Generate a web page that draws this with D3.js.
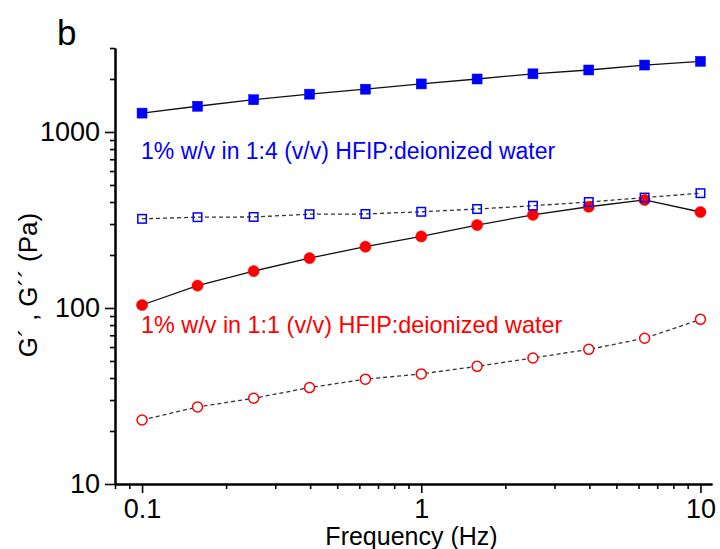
<!DOCTYPE html>
<html>
<head>
<meta charset="utf-8">
<script src="https://cdn.jsdelivr.net/npm/d3@7"></script>
<style>
  html, body { margin: 0; padding: 0; background: #fff; }
  svg { display: block; font-family: "Liberation Sans", Arial, sans-serif; }
</style>
</head>
<body>
<svg id="chart" width="720" height="549"></svg>
<script>
// Oscillatory frequency sweep: storage (G') and loss (G'') moduli
const frequency = [0.1, 0.158, 0.251, 0.398, 0.631, 1, 1.585, 2.512, 3.981, 6.31, 10];

// 1% w/v in 1:4 (v/v) HFIP:deionized water
const storage14 = [1280, 1400, 1525, 1640, 1750, 1875, 2000, 2140, 2250, 2400, 2520];
const loss14    = [321, 328, 329, 341, 342, 352, 365, 381, 400, 424, 449];

// 1% w/v in 1:1 (v/v) HFIP:deionized water
const storage11 = [104, 134, 162, 192, 223, 255, 296, 338, 376, 411, 351];
const loss11    = [23.1, 27.4, 30.7, 35.3, 39.4, 42.2, 46.6, 52, 58.2, 67.3, 86.2];

const xMajorTicks = [0.1, 1, 10];
const xMinorTicks = [0.08, 0.09, 0.2, 0.3, 0.4, 0.5, 0.6, 0.7, 0.8, 0.9, 2, 3, 4, 5, 6, 7, 8, 9];
const yMajorTicks = [10, 100, 1000];
const yMinorTicks = [20, 30, 40, 50, 60, 70, 80, 90, 200, 300, 400, 500, 600, 700, 800, 900, 2000, 3000];

const svg = d3.select("#chart");
const plot = { left: 115, right: 712, top: 48, bottom: 484 };

const x = d3.scaleLog().domain([0.08, 11]).range([plot.left, plot.right]);
const y = d3.scaleLog().domain([10, 3000]).range([plot.bottom, plot.top]);

// Axes: minor ticks first (unlabelled), then labelled majors
const axisStyle = g => {
  g.select(".domain").attr("stroke", "#000").attr("stroke-width", 2);
  g.selectAll(".tick line").attr("stroke", "#000").attr("stroke-width", 1.6);
  g.selectAll(".tick text").attr("fill", "#000").attr("font-size", 27)
    .attr("font-family", "'Liberation Sans', Arial, sans-serif");
};

svg.append("g").attr("transform", `translate(0,${plot.bottom})`)
  .call(d3.axisBottom(x).tickValues(xMinorTicks).tickSize(5).tickFormat("").tickSizeOuter(0))
  .call(axisStyle);
svg.append("g").attr("transform", `translate(0,${plot.bottom})`)
  .call(d3.axisBottom(x).tickValues(xMajorTicks).tickSize(9).tickPadding(6)
    .tickFormat(d3.format("~g")).tickSizeOuter(0))
  .call(axisStyle);

svg.append("g").attr("transform", `translate(${plot.left},0)`)
  .call(d3.axisLeft(y).tickValues(yMinorTicks).tickSize(5).tickFormat("").tickSizeOuter(0))
  .call(axisStyle);
svg.append("g").attr("transform", `translate(${plot.left},0)`)
  .call(d3.axisLeft(y).tickValues(yMajorTicks).tickSize(10).tickPadding(5)
    .tickFormat(d3.format("~g")).tickSizeOuter(0))
  .call(axisStyle);

// Axis titles and panel letter
svg.append("text")
  .attr("x", (plot.left + plot.right) / 2 - 2).attr("y", 545)
  .attr("text-anchor", "middle").attr("font-size", 25).attr("fill", "#000")
  .text("Frequency (Hz)");

svg.append("text")
  .attr("transform", "translate(37,285) rotate(-90)")
  .attr("text-anchor", "middle").attr("font-size", 26).attr("fill", "#000")
  .text("G´ , G´´ (Pa)");

svg.append("text")
  .attr("x", 57).attr("y", 45).attr("font-size", 35).attr("fill", "#000")
  .text("b");

// Series
const series = [
  { values: storage11, color: "#ff0000", shape: "circle", filled: true,  dash: null },
  { values: loss11,    color: "#ff0000", shape: "circle", filled: false, dash: "4,3" },
  { values: loss14,    color: "#0000ff", shape: "square", filled: false, dash: "4,3" },
  { values: storage14, color: "#0000ff", shape: "square", filled: true,  dash: null }
];

const line = d3.line().x(d => x(d[0])).y(d => y(d[1]));

series.forEach(s => {
  const pts = frequency.map((f, i) => [f, s.values[i]]);
  svg.append("path")
    .datum(pts)
    .attr("d", line)
    .attr("fill", "none")
    .attr("stroke", s.dash ? "#333" : "#111")
    .attr("stroke-width", 1.3)
    .attr("stroke-dasharray", s.dash);
});

series.forEach(s => {
  const pts = frequency.map((f, i) => [f, s.values[i]]);
  const g = svg.append("g");
  if (s.shape === "circle") {
    g.selectAll("circle").data(pts).join("circle")
      .attr("cx", d => x(d[0])).attr("cy", d => y(d[1]))
      .attr("r", s.filled ? 5.6 : 5)
      .attr("fill", s.filled ? s.color : "#fff")
      .attr("stroke", s.color)
      .attr("stroke-width", s.filled ? 0.5 : 1.5);
  } else {
    const size = s.filled ? 10 : 8.5;
    g.selectAll("rect").data(pts).join("rect")
      .attr("x", d => x(d[0]) - size / 2).attr("y", d => y(d[1]) - size / 2)
      .attr("width", size).attr("height", size)
      .attr("fill", s.filled ? s.color : "none")
      .attr("stroke", s.color)
      .attr("stroke-width", s.filled ? 0.5 : 1.5);
  }
});

// Sample annotations
svg.append("text")
  .attr("x", 141).attr("y", 159).attr("font-size", 23).attr("fill", "#0000ff")
  .text("1% w/v in 1:4 (v/v) HFIP:deionized water");

svg.append("text")
  .attr("x", 141).attr("y", 333).attr("font-size", 23.4).attr("fill", "#ff0000")
  .text("1% w/v in 1:1 (v/v) HFIP:deionized water");
</script>
</body>
</html>
